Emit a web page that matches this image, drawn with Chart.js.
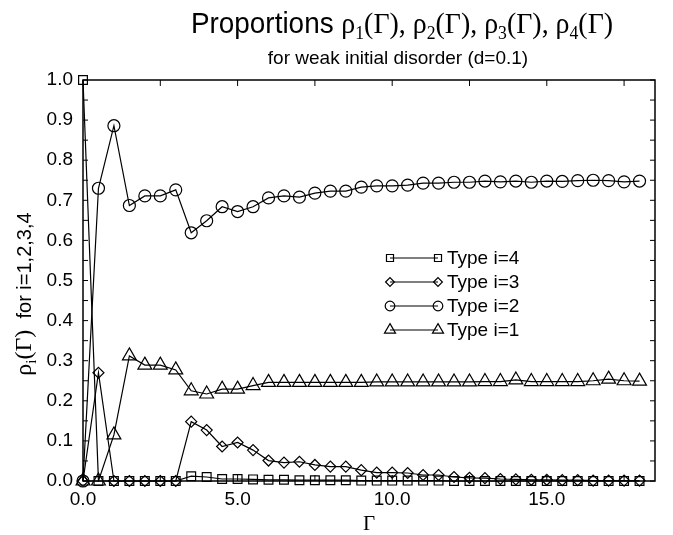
<!DOCTYPE html>
<html>
<head>
<meta charset="utf-8">
<script src="https://cdn.jsdelivr.net/npm/chart.js@4/dist/chart.umd.min.js"></script>
<style>
    html, body { margin: 0; padding: 0; background: #fff; }
</style>
</head>
<body>
<canvas id="chart" width="673" height="535"></canvas>
<script>

// Gamma values (x axis)
const gamma_values = [0.0, 0.5, 1.0, 1.5, 2.0, 2.5, 3.0, 3.5, 4.0, 4.5, 5.0, 5.5, 6.0, 6.5, 7.0, 7.5, 8.0, 8.5,
                      9.0, 9.5, 10.0, 10.5, 11.0, 11.5, 12.0, 12.5, 13.0, 13.5, 14.0, 14.5, 15.0, 15.5, 16.0, 16.5,
                      17.0, 17.5, 18.0];

const type4_values = [1.0, 0, 0, 0, 0, 0, 0, 0.012, 0.010, 0.005, 0.005, 0.004, 0.003, 0.003, 0.002, 0.002, 0.002, 0.002,
                      0.001, 0.001, 0.001, 0.001, 0.001, 0.001, 0, 0, 0, 0, 0, 0, 0, 0, 0, 0, 0, 0, 0];

const type3_values = [0, 0.27, 0, 0, 0, 0, 0, 0.148, 0.127, 0.086, 0.096, 0.077, 0.051, 0.046, 0.048, 0.040, 0.036, 0.036,
                      0.027, 0.021, 0.021, 0.020, 0.015, 0.015, 0.010, 0.008, 0.007, 0.005, 0.004, 0.003, 0.003, 0.002,
                      0.002, 0.001, 0.001, 0.001, 0.001];

const type2_values = [0, 0.73, 0.886, 0.687, 0.711, 0.711, 0.726, 0.619, 0.649, 0.684, 0.672, 0.684, 0.706, 0.711, 0.708,
                      0.718, 0.723, 0.723, 0.733, 0.736, 0.736, 0.738, 0.743, 0.743, 0.745, 0.745, 0.748, 0.746, 0.748,
                      0.745, 0.748, 0.747, 0.749, 0.750, 0.749, 0.746, 0.748];

const type1_values = [0, 0, 0.115, 0.312, 0.289, 0.289, 0.277, 0.225, 0.217, 0.229, 0.229, 0.238, 0.246, 0.246, 0.246,
                      0.246, 0.246, 0.246, 0.246, 0.247, 0.247, 0.247, 0.247, 0.247, 0.247, 0.247, 0.248, 0.248, 0.252,
                      0.248, 0.248, 0.248, 0.248, 0.250, 0.254, 0.250, 0.249];

const series_labels = ["Type i=4", "Type i=3", "Type i=2", "Type i=1"];
const x_tick_labels = [0, 5, 10, 15];

const SANS = '"Liberation Sans", Arial, Helvetica, sans-serif';
const SERIF = '"Liberation Serif", "Times New Roman", serif';

function makeDataset(label, values, point_style, radius) {
    return {
        label: label,
        data: gamma_values.map((g, i) => ({x: g, y: values[i]})),
        borderColor: '#000',
        backgroundColor: 'rgba(0,0,0,0)',
        borderWidth: 1.2,
        pointStyle: point_style,
        pointRadius: radius,
        pointBorderWidth: 1.2,
        pointBorderColor: '#000',
        pointBackgroundColor: 'rgba(0,0,0,0)',
        clip: false,
        tension: 0
    };
}

// Draws a string made of pieces with their own font and baseline shift
function drawPieces(ctx, pieces, x, y, align) {
    let total = 0;
    pieces.forEach(p => { ctx.font = p.font; total += ctx.measureText(p.text).width; });
    let cx = align === 'center' ? x - total / 2 : x;
    ctx.textAlign = 'left';
    ctx.textBaseline = 'alphabetic';
    pieces.forEach(p => {
        ctx.font = p.font;
        ctx.fillText(p.text, cx, y + (p.dy || 0));
        cx += ctx.measureText(p.text).width;
    });
}

const textPlugin = {
    id: 'texts',
    afterDraw(chart) {
        const ctx = chart.ctx;
        const area = chart.chartArea;
        ctx.save();
        ctx.fillStyle = '#000';

        // main title (slightly condensed, like the original)
        const big = '30px ' + SERIF, sub = '19px ' + SERIF;
        const title = [{text: 'Proportions ', font: '30px ' + SANS}];
        [1, 2, 3, 4].forEach((n, k) => {
            title.push({text: 'ρ', font: big});
            title.push({text: String(n), font: sub, dy: 6});
            title.push({text: '(Γ)' + (k < 3 ? ', ' : ''), font: big});
        });
        ctx.save();
        ctx.translate(402, 0);
        ctx.scale(0.93, 1);
        drawPieces(ctx, title, 0, 33, 'center');
        ctx.restore();

        // subtitle
        drawPieces(ctx, [{text: 'for weak initial disorder (d=0.1)', font: '19px ' + SANS}], 398, 64, 'center');

        // x axis title
        drawPieces(ctx, [{text: 'Γ', font: '21px ' + SERIF}], (area.left + area.right) / 2, 530, 'center');

        // y axis title
        ctx.save();
        ctx.translate(31, 294);
        ctx.rotate(-Math.PI / 2);
        drawPieces(ctx, [
            {text: 'ρ', font: '24px ' + SERIF},
            {text: 'i', font: '15px ' + SERIF, dy: 5},
            {text: '(Γ)', font: '24px ' + SERIF},
            {text: '  for i=1,2,3,4', font: '20px ' + SANS}
        ], 0, 0, 'center');
        ctx.restore();

        // frame
        ctx.strokeStyle = '#000';
        ctx.lineWidth = 1.5;
        ctx.strokeRect(area.left, area.top, area.right - area.left, area.bottom - area.top);

        // inward ticks
        const xs = chart.scales.x, ys = chart.scales.y;
        ctx.lineWidth = 1;
        ctx.beginPath();
        for (let v = 0; v <= 18.5; v += 2.5) {
            const px = xs.getPixelForValue(v);
            ctx.moveTo(px, area.top); ctx.lineTo(px, area.top + 6);
            ctx.moveTo(px, area.bottom); ctx.lineTo(px, area.bottom - 6);
        }
        for (let k = 0; k <= 20; k++) {
            const py = ys.getPixelForValue(k * 0.05);
            ctx.moveTo(area.left, py); ctx.lineTo(area.left + 5, py);
            ctx.moveTo(area.right, py); ctx.lineTo(area.right - 5, py);
        }
        ctx.stroke();

        // legend
        chart.data.datasets.forEach((ds, i) => {
            const ly = 258 + i * 24;
            const x1 = 390, x2 = 438;
            ctx.strokeStyle = '#000';
            ctx.lineWidth = 1.2;
            ctx.beginPath();
            ctx.moveTo(x1, ly); ctx.lineTo(x2, ly);
            ctx.stroke();
            const opts = {pointStyle: ds.pointStyle, radius: ds.pointRadius * 0.8, borderWidth: 1.2, rotation: 0};
            ctx.fillStyle = 'rgba(0,0,0,0)';
            Chart.helpers.drawPoint(ctx, opts, x1, ly);
            Chart.helpers.drawPoint(ctx, opts, x2, ly);
            ctx.fillStyle = '#000';
            ctx.font = '19px ' + SANS;
            ctx.textBaseline = 'middle';
            ctx.textAlign = 'left';
            ctx.fillText(ds.label, 447, ly + 1);
        });

        ctx.restore();
    }
};

const chart = new Chart(document.getElementById('chart'), {
    type: 'line',
    data: {
        datasets: [
            makeDataset(series_labels[0], type4_values, 'rect', 6.2),
            makeDataset(series_labels[1], type3_values, 'rectRot', 5.5),
            makeDataset(series_labels[2], type2_values, 'circle', 6),
            makeDataset(series_labels[3], type1_values, 'triangle', 8)
        ]
    },
    options: {
        responsive: false,
        animation: false,
        layout: { padding: { top: 80, right: 18, bottom: 0, left: 0 } },
        plugins: {
            legend: { display: false },
            title: { display: false },
            tooltip: { enabled: false }
        },
        scales: {
            x: {
                type: 'linear',
                min: 0,
                max: 18.5,
                afterBuildTicks: scale => { scale.ticks = x_tick_labels.map(v => ({value: v})); },
                afterFit: scale => { scale.height = 54; },
                grid: { display: false, drawTicks: false },
                border: { display: false },
                ticks: {
                    padding: 7,
                    color: '#000',
                    font: { family: SANS, size: 19 },
                    callback: v => Number(v).toFixed(1)
                }
            },
            y: {
                min: 0,
                max: 1,
                afterFit: scale => { scale.width = 83; },
                grid: { display: false, drawTicks: false },
                border: { display: false },
                ticks: {
                    stepSize: 0.1,
                    padding: 10,
                    color: '#000',
                    font: { family: SANS, size: 19 },
                    callback: v => Number(v).toFixed(1)
                }
            }
        }
    },
    plugins: [textPlugin]
});

</script>
</body>
</html>
